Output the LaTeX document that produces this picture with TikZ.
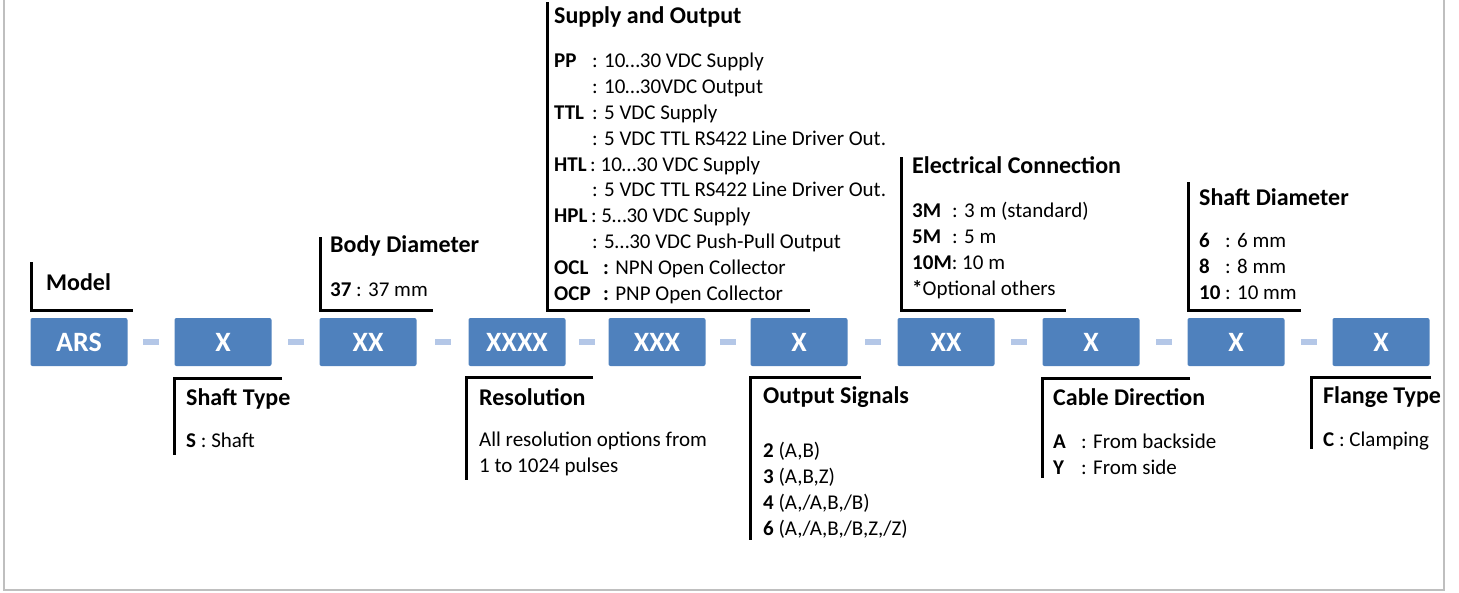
\documentclass[tikz,border=0pt]{standalone}
\usepackage{fontspec}
\setmainfont{Carlito}
\usetikzlibrary{positioning,calc}
\definecolor{codeblue}{HTML}{4F81BD}
\definecolor{dashblue}{HTML}{B4C7E7}
\definecolor{framegray}{HTML}{BFBFBF}
\newcommand{\kw}[2]{\makebox[#1][l]{\bfseries #2}}

\begin{document}
\begin{tikzpicture}[
  x = 1pt, y = -1pt,
  code/.style = {rectangle, fill=codeblue, rounded corners=2pt, text=white,
                 minimum width=97pt, minimum height=48pt, inner sep=0pt,
                 font=\fontsize{28}{32}\selectfont\bfseries},
  sep/.style = {rectangle, fill=dashblue, minimum width=16pt,
                minimum height=6pt, inner sep=0pt},
  ttl/.style = {anchor=base west, inner sep=0pt,
                font=\fontsize{24}{29}\selectfont\bfseries},
  txt/.style = {anchor=base west, inner sep=0pt, align=left,
                font=\fontsize{21}{25.8}\selectfont},
  bracket/.style = {line width=3pt}
]
\useasboundingbox (0,0) rectangle (1459,592);
\draw[framegray, line width=2pt] (3.5,-10) -- (3.5,590) -- (1443.5,590) -- (1443.5,-10);

% ───────── code row ─────────
\foreach \cx/\lab [count=\i from 0] in {79/ARS, 223/X, 368/XX, 517/XXXX, 657/XXX,
                                       799/X, 946/XX, 1091/X, 1236/X, 1381/X}
  \node[code] (m\i) at (\cx,342) {\lab};
\foreach \i [evaluate=\i as \j using int(\i+1)] in {0,...,8}
  \node[sep] (d\i) at ($(m\i.east)!0.5!(m\j.west)$) {};

% ───────── labels above ─────────
% (multi-line texts sit on the baseline of their last line)
\node[ttl] (model) at (46,290) {Model};
\draw[bracket] (31,262) |- (133,310);

\node[ttl] (body) at (330,252) {Body Diameter};
\node[txt] (bodyopt) at (330,296) {\textbf{37} : 37 mm};
\draw[bracket] (320,237) |- (433,310);

\node[ttl] (supply) at (554,23) {Supply and Output};
\node[txt] (supplyopt) at (554,300) {\kw{38pt}{PP}: 10…30 VDC Supply\\
  \kw{38pt}{}: 10…30VDC Output\\
  \kw{38pt}{TTL}: 5 VDC Supply\\
  \kw{38pt}{}: 5 VDC TTL RS422 Line Driver Out.\\
  \textbf{HTL}\,: 10…30 VDC Supply\\
  \kw{38pt}{}: 5 VDC TTL RS422 Line Driver Out.\\
  \textbf{HPL}\,: 5…30 VDC Supply\\
  \kw{38pt}{}: 5…30 VDC Push-Pull Output\\
  \kw{49pt}{OCL}\textbf{:} NPN Open Collector\\
  \kw{49pt}{OCP}\textbf{:} PNP Open Collector};
\draw[bracket] (547,2) |- (810,310);

\node[ttl] (elec) at (912,173) {Electrical Connection};
\node[txt] (elecopt) at (912,295) {\kw{40pt}{3M}: 3 m (standard)\\
  \kw{40pt}{5M}: 5 m\\
  \textbf{10M}: 10 m\\
  \textbf{*}Optional others};
\draw[bracket] (901,157) |- (1066,310);

\node[ttl] (sdia) at (1199,205) {Shaft Diameter};
\node[txt] (sdiaopt) at (1199,299) {\kw{26pt}{6}: 6 mm\\
  \kw{26pt}{8}: 8 mm\\
  \kw{26pt}{10}: 10 mm};
\draw[bracket] (1188,182) |- (1301,310);

% ───────── labels below ─────────
\node[ttl] (stype) at (186,405) {Shaft Type};
\node[txt] (stypeopt) at (186,447) {\textbf{S} : Shaft};
\draw[bracket] (282,378) -| (174,455);

\node[ttl] (res) at (479,405) {Resolution};
\node[txt] (resopt) at (479,472) {All resolution options from\\1 to 1024 pulses};
\draw[bracket] (593,377) -| (466,480);

\node[ttl] (sig) at (763,403) {Output Signals};
\node[txt] (sigopt) at (763,535) {\textbf{2} (A,B)\\
  \textbf{3} (A,B,Z)\\
  \textbf{4} (A,/A,B,/B)\\
  \textbf{6} (A,/A,B,/B,Z,/Z)};
\draw[bracket] (861,377) -| (750,540);

\node[ttl] (cable) at (1053,405) {Cable Direction};
\node[txt] (cableopt) at (1053,474) {\kw{28pt}{A}: From backside\\
  \kw{28pt}{Y}: From side};
\draw[bracket] (1190,378) -| (1042,478);

\node[ttl] (flange) at (1323,403) {Flange Type};
\node[txt] (flangeopt) at (1323,446) {\textbf{C} : Clamping};
\draw[bracket] (1431,377) -| (1311,449);
\end{tikzpicture}
\end{document}
